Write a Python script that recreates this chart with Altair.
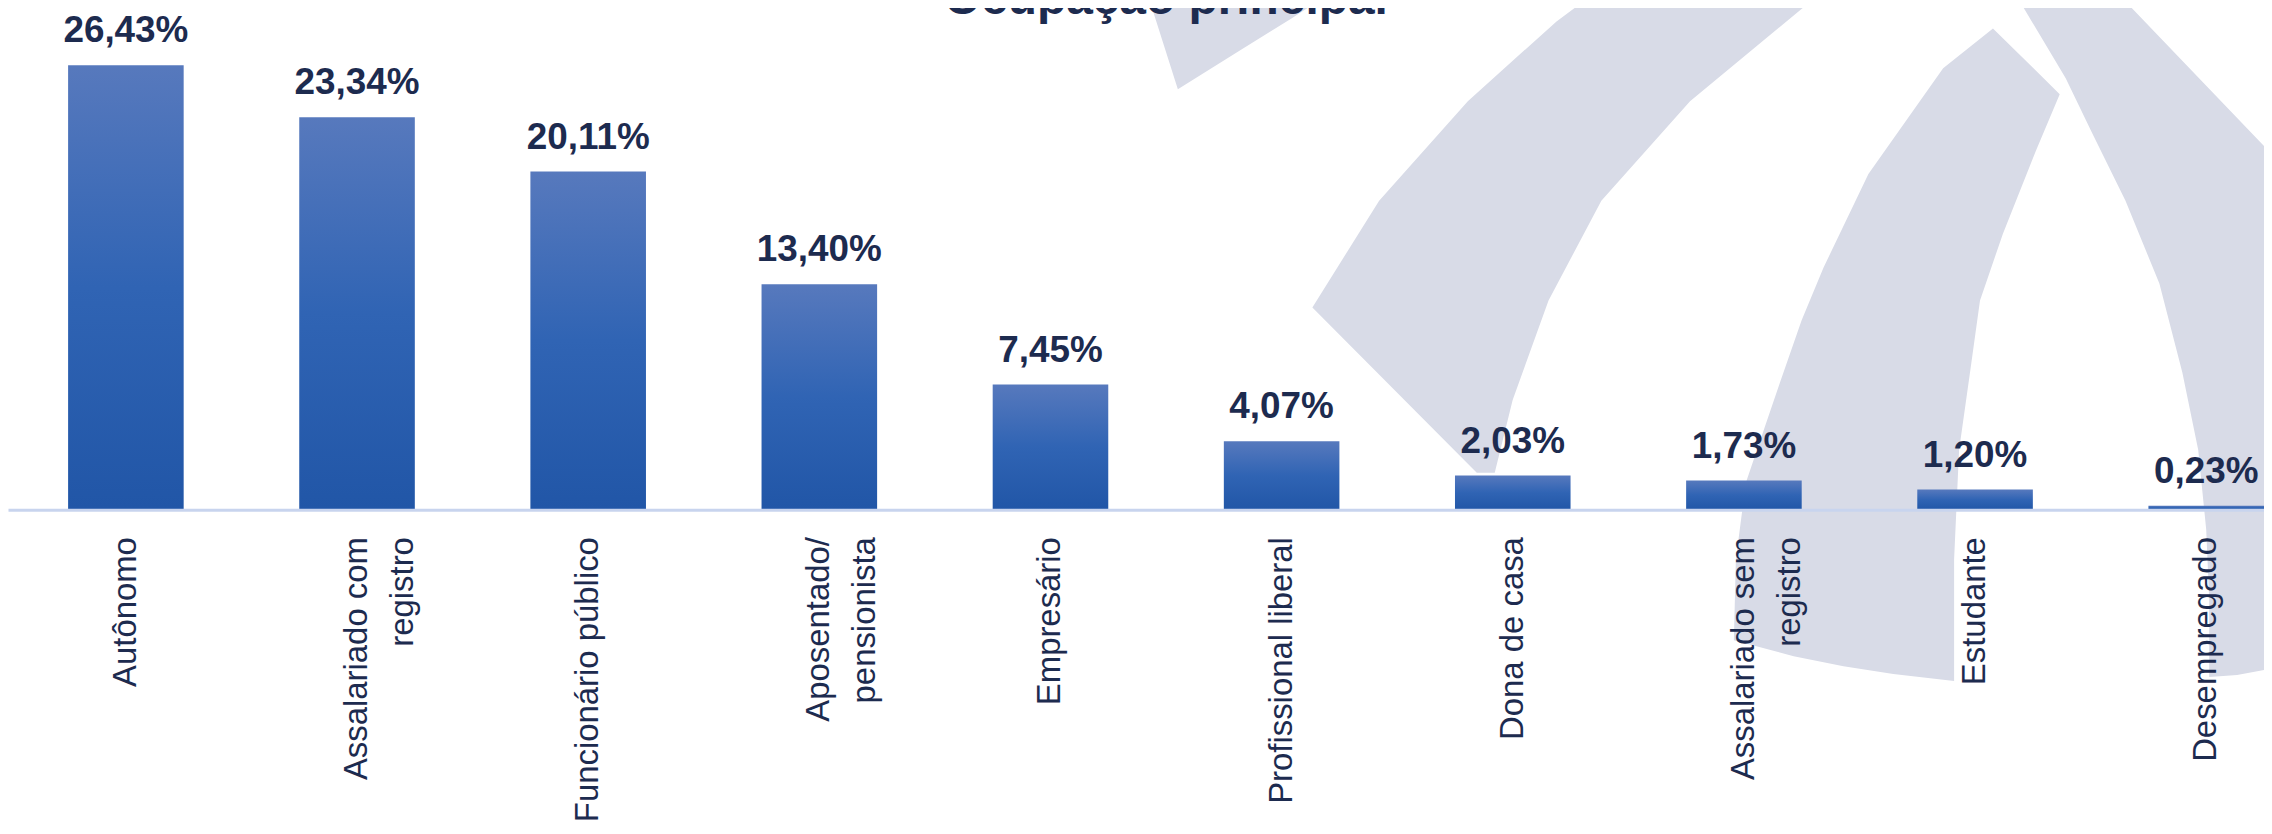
import altair as alt
import pandas as pd

# ---- chart data ----
categories = [
    "Autônomo",
    "Assalariado com\nregistro",
    "Funcionário público",
    "Aposentado/\npensionista",
    "Empresário",
    "Profissional liberal",
    "Dona de casa",
    "Assalariado sem\nregistro",
    "Estudante",
    "Desempregado",
]
values = [26.43, 23.34, 20.11, 13.40, 7.45, 4.07, 2.03, 1.73, 1.20, 0.23]
title_text = "Ocupação principal"

# ---- background watermark (logo) outlines, page pixel coordinates ----
wm_piece_b = [(1153, -5), (1154, 0), (1182, 88), (1243, 50), (1296, 17), (1330, -5)]
wm_band_a = [(1592, -5), (1589, 0), (1562, 20), (1473, 100), (1384, 200), (1317, 307),
             (1482, 473), (1500, 473), (1518, 400), (1554, 300), (1607, 200), (1696, 100),
             (1817, 0), (1822, -5)]
wm_band_c = [(1740, 641), (1742, 560), (1752, 483), (1770, 430), (1786, 383), (1808, 320),
             (1830, 267), (1875, 173), (1950, 67), (2000, 27), (2067, 93), (2043, 150),
             (2010, 233), (1987, 300), (1977, 372), (1966, 450), (1961, 560), (1961, 682),
             (1900, 675), (1850, 667), (1800, 657)]
wm_band_d = [(2024, -5), (2027, 0), (2073, 77), (2100, 133), (2133, 200), (2167, 283),
             (2190, 372), (2206, 450), (2214, 530), (2217, 600), (2217, 678), (2245, 676),
             (2272, 671), (2300, 668), (2300, 175), (2272, 145), (2133, 0), (2128, -5)]

NAVY = "#1d2b4f"
WM = "#d8dbe7"

df = pd.DataFrame({"cat": categories, "v": values})

features = []
for poly in [wm_piece_b, wm_band_a, wm_band_c, wm_band_d]:
    ring = [list(p) for p in poly] + [list(poly[0])]
    features.append({"type": "Feature", "properties": {},
                     "geometry": {"type": "Polygon", "coordinates": [ring]}})

watermark = (
    alt.Chart(alt.Data(values=features))
    .mark_geoshape(fill=WM, stroke=WM, strokeWidth=0, clip=False)
    .project(type="identity", scale=1, translate=[-8, -8])
)

gradient = alt.Gradient(
    gradient="linear",
    stops=[
        alt.GradientStop(color="#5779bd", offset=0),
        alt.GradientStop(color="#3064b4", offset=0.5),
        alt.GradientStop(color="#2156a7", offset=1),
    ],
    x1=0, x2=0, y1=0, y2=1,
)

x_enc = alt.X(
    "cat:N",
    sort=categories,
    scale=alt.Scale(paddingInner=0.5, paddingOuter=0.13, align=1, round=False),
    axis=alt.Axis(
        title=None,
        labelAngle=270,
        labelFont="Liberation Sans",
        labelFontSize=33,
        labelColor=NAVY,
        labelLimit=0,
        labelPadding=27,
        labelLineHeight=46,
        labelOverlap=False,
        labelExpr="split(datum.label, '\\n')",
        ticks=False,
        tickSize=0,
        domainColor="#c8d4ee",
        domainWidth=3,
        grid=False,
        zindex=1,
    ),
)
y_enc = alt.Y("v:Q", scale=alt.Scale(domain=[0, 29.75], nice=False), axis=None)

base = alt.Chart(df)

bars = base.mark_bar(color=gradient).encode(x=x_enc, y=y_enc)

value_labels = (
    base.transform_calculate(lbl="replace(format(datum.v, '.2f'), '.', ',') + '%'")
    .mark_text(font="Liberation Sans", fontSize=37, fontWeight="bold", color=NAVY,
               baseline="alphabetic", dy=-23)
    .encode(x=alt.X("cat:N", sort=categories), y=alt.Y("v:Q"), text="lbl:N")
)

title_layer = (
    alt.Chart(alt.Data(values=[{"t": title_text}]))
    .mark_text(font="Liberation Sans", fontSize=48, fontWeight="bold", color=NAVY,
               baseline="alphabetic", align="center")
    .encode(x=alt.value(1162), y=alt.value(5), text="t:N")
)

chart = (
    alt.layer(watermark, bars, value_labels, title_layer)
    .properties(
        width=2264,
        height=502,
        padding={"left": 0, "top": 0, "right": 0, "bottom": 324},
        autosize=alt.AutoSizeParams(type="none"),
        background="white",
    )
    .configure_view(strokeOpacity=0)
)

chart.save("out.html", embed_options={"renderer": "svg", "actions": False})
